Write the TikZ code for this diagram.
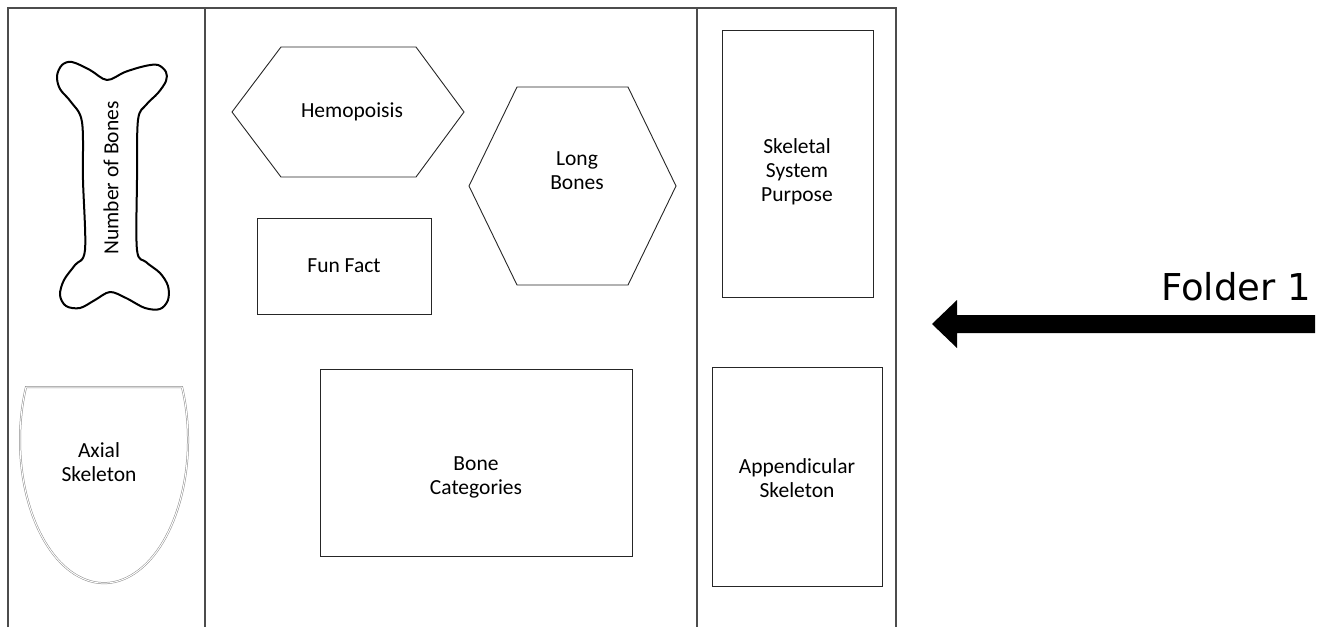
\documentclass[tikz,border=0pt]{standalone}
\usepackage{fontspec}
\setmainfont{Carlito}
\newfontfamily\foldfont{DejaVu Sans}
\begin{document}
\begin{tikzpicture}[x=1pt,y=-1pt,
  lbl/.style={font=\fontsize{21.5}{24}\selectfont, align=center, inner sep=0pt},
  frameline/.style={draw=black!70, line width=1.3pt},
  box/.style={draw=black!85, line width=0.9pt, inner sep=0pt},
  ]
\useasboundingbox (0,0) rectangle (1326,627);
% frame and column separators
\draw[frameline] (8,627) -- (8,8) -- (896,8) -- (896,627);
\draw[frameline] (205,8) -- (205,627);
\draw[frameline] (697,8) -- (697,627);

% bone
\draw[line width=2pt, line join=round] plot[smooth cycle, tension=0.55] coordinates {
  (107,80) (125,72) (145,66) (158,65) (166,72) (166,81) (158,93) (146,105) (138,120)
  (137,180) (137,250) (146,262) (160,273) (168,286) (168,300) (160,309) (145,308)
  (126,298) (110,292) (95,300) (80,308) (66,306) (60,295) (64,280) (75,265) (85,250)
  (83,180) (82,122) (71,102) (60,89) (57,76) (62,65) (72,62) (90,70)};
\node[lbl, rotate=90] (nbones) at (111,178) {Number of Bones};

% shield
\draw[draw=black!45, line width=0.5pt, double=white, double distance=1pt]
  (182,387) arc[start angle=-21.8, end angle=201.8, x radius=84, y radius=143] -- cycle;
\node[lbl] (axial) at (99,462) {Axial\\Skeleton};

% hexagons
\draw[box] (232,112) -- (281,47) -- (416,47) -- (464,112) -- (416,177) -- (281,177) -- cycle;
\node[lbl] (hemo) at (352,112) {Hemopoisis};
\draw[box] (469,186) -- (517,87) -- (628,87) -- (676,186) -- (628,285) -- (517,285) -- cycle;
\node[lbl] (long) at (577,171) {Long\\Bones};

% rectangles
\node[box, minimum width=174pt, minimum height=96pt] (funbox) at (344,266) {};
\node[lbl] (fun) at (344,266) {Fun Fact};
\node[box, minimum width=312pt, minimum height=187pt] (catbox) at (476,462.5) {};
\node[lbl] (cat) at (476,477) {Bone\\Categories};
\node[box, minimum width=151pt, minimum height=267pt] (purpbox) at (797.5,163.5) {};
\node[lbl] (purp) at (797,172) {Skeletal\\System\\Purpose};
\node[box, minimum width=170pt, minimum height=219pt] (appbox) at (797,476.5) {};
\node[lbl] (app) at (797,478) {Appendicular\\Skeleton};

% arrow and label
\fill (932,324) -- (957,300) -- (957,315) -- (1315,315) -- (1315,333) -- (957,333) -- (957,348) -- cycle;
\node[anchor=base east, font=\foldfont\fontsize{37}{44}\selectfont, inner sep=0pt] (folder) at (1311,300) {Folder 1};
\end{tikzpicture}
\end{document}
